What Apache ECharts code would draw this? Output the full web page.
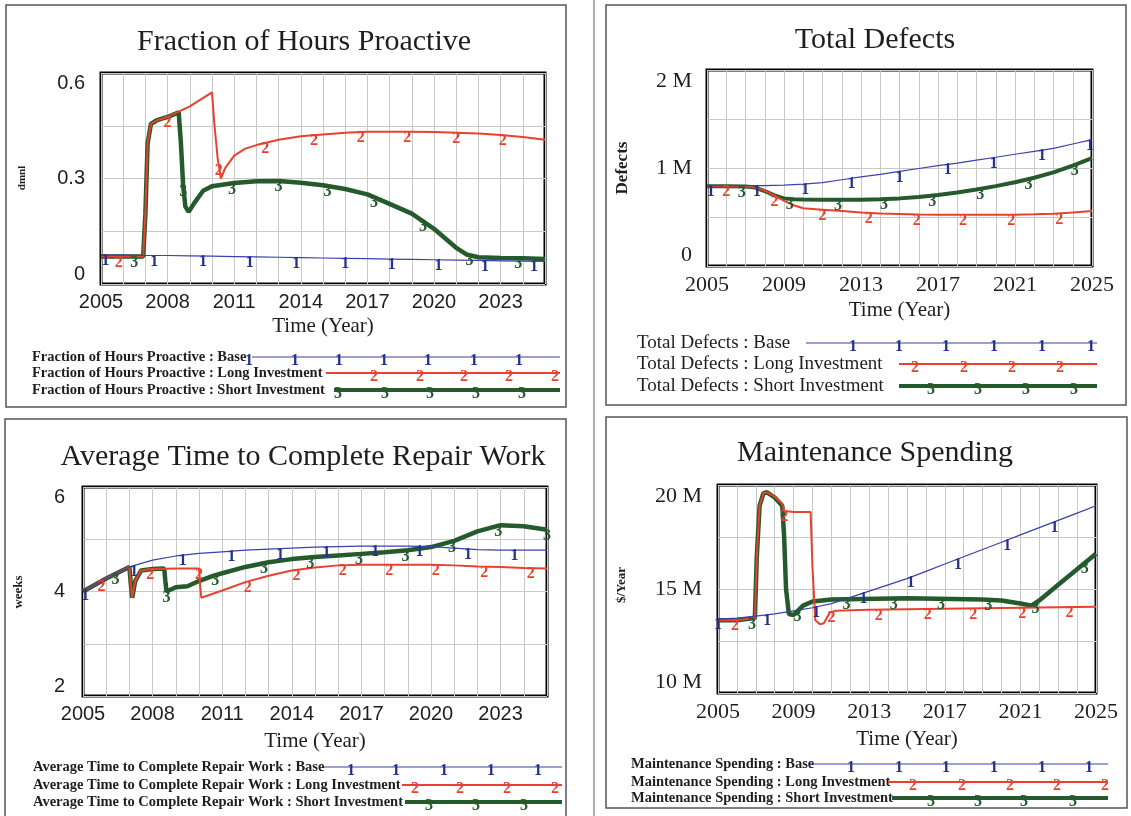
<!DOCTYPE html>
<html>
<head>
<meta charset="utf-8">
<title>Scenario comparison</title>
<script src="https://cdn.jsdelivr.net/npm/echarts@6.0.0/dist/echarts.min.js"></script>
<style>
  html, body { margin: 0; padding: 0; background: #fff; }
  #chart { width: 1131px; height: 816px; }
</style>
</head>
<body>
<div id="chart"></div>
<script>
// ---- values: [year, value] ----
// Fraction of Hours Proactive (dmnl)
const fhpBase = [[2005,0.082],[2006,0.082],[2007,0.081],[2008,0.081],[2009,0.080],[2010,0.079],[2011,0.078],[2012,0.077],[2013,0.076],[2014,0.075],[2015,0.074],[2016,0.073],[2017,0.072],[2018,0.071],[2019,0.070],[2020,0.069],[2021,0.068],[2022,0.067],[2023,0.066],[2024,0.065],[2025,0.064]]
const fhpLong = [[2005,0.078],[2006,0.078],[2006.9,0.078],[2007.0,0.2],[2007.1,0.40],[2007.25,0.455],[2007.5,0.465],[2008,0.475],[2008.5,0.49],[2009,0.505],[2009.5,0.525],[2010.0,0.545],[2010.1,0.46],[2010.25,0.36],[2010.4,0.30],[2010.6,0.33],[2011,0.365],[2011.5,0.385],[2012,0.395],[2013,0.41],[2014,0.42],[2015,0.425],[2016,0.43],[2017,0.433],[2018,0.433],[2019,0.433],[2020,0.432],[2021,0.43],[2022,0.428],[2023,0.424],[2024,0.418],[2025,0.41]]
const fhpShort = [[2005,0.078],[2006,0.078],[2006.9,0.078],[2007.0,0.2],[2007.1,0.40],[2007.25,0.455],[2007.5,0.465],[2008,0.475],[2008.5,0.488],[2008.6,0.40],[2008.7,0.28],[2008.8,0.22],[2008.95,0.205],[2009.2,0.23],[2009.6,0.265],[2010,0.278],[2011,0.287],[2012,0.292],[2013,0.293],[2014,0.288],[2015,0.281],[2016,0.27],[2017,0.255],[2018,0.228],[2019,0.2],[2020,0.157],[2020.5,0.13],[2021,0.103],[2021.5,0.083],[2022,0.076],[2023,0.074],[2024,0.073],[2025,0.071]]
const fhpMarks1 = [2005.2, 2007.4, 2009.6, 2011.7, 2013.8, 2016.0, 2018.1, 2020.2, 2022.3, 2024.5]
const fhpMarks2 = [2005.8, 2008.0, 2010.3, 2012.4, 2014.6, 2016.7, 2018.8, 2021.0, 2023.1]
const fhpMarks3 = [2006.5, 2008.7, 2010.9, 2013.0, 2015.2, 2017.3, 2019.5, 2021.6, 2023.8]

// Total Defects
const tdBase = [[2005,820000],[2006,820000],[2007,820000],[2008,820000],[2009,825000],[2010,835000],[2011,850000],[2012,880000],[2013,910000],[2014,935000],[2015,965000],[2016,995000],[2017,1025000],[2018,1050000],[2019,1080000],[2020,1110000],[2021,1140000],[2022,1170000],[2023,1200000],[2024,1245000],[2025,1290000]]
const tdLong = [[2005,815000],[2006,815000],[2007,812000],[2007.5,800000],[2008,770000],[2008.5,720000],[2009,665000],[2009.5,620000],[2010,590000],[2011,575000],[2012,560000],[2013,545000],[2014,535000],[2015,530000],[2016,525000],[2017,523000],[2018,522000],[2019,522000],[2020,523000],[2021,524000],[2022,527000],[2023,533000],[2024,545000],[2025,560000]]
const tdShort = [[2005,815000],[2006,815000],[2007,812000],[2007.5,800000],[2008,765000],[2008.5,720000],[2009,690000],[2009.5,680000],[2010,678000],[2011,676000],[2012,676000],[2013,677000],[2014,680000],[2015,690000],[2016,705000],[2017,725000],[2018,750000],[2019,780000],[2020,815000],[2021,855000],[2022,900000],[2023,955000],[2024,1025000],[2025,1100000]]
const tdMarks1 = [2005.2, 2007.6, 2010.1, 2012.5, 2015.0, 2017.5, 2019.9, 2022.4, 2024.9]
const tdMarks2 = [2006.0, 2008.5, 2011.0, 2013.4, 2015.9, 2018.3, 2020.8, 2023.3]
const tdMarks3 = [2006.8, 2009.3, 2011.8, 2014.2, 2016.7, 2019.2, 2021.7, 2024.1]

// Average Time to Complete Repair Work (weeks)
const atcBase = [[2005,4.0],[2006,4.25],[2007,4.47],[2008,4.6],[2009,4.68],[2010,4.73],[2011,4.76],[2012,4.79],[2013,4.81],[2014,4.83],[2015,4.85],[2016,4.86],[2017,4.87],[2018,4.87],[2019,4.87],[2020,4.86],[2021,4.83],[2022,4.8],[2023,4.79],[2024,4.79],[2025,4.79]]
const atcLong = [[2005,4.0],[2006,4.25],[2007,4.47],[2007.05,4.2],[2007.12,3.88],[2007.25,4.2],[2007.5,4.4],[2008,4.43],[2009,4.44],[2010.0,4.44],[2010.05,4.1],[2010.1,3.88],[2011,4.02],[2012,4.18],[2013,4.3],[2014,4.4],[2015,4.46],[2016,4.5],[2017,4.51],[2018,4.51],[2019,4.51],[2020,4.51],[2021,4.5],[2022,4.48],[2023,4.47],[2024,4.45],[2025,4.44]]
const atcShort = [[2005,4.0],[2006,4.25],[2007,4.47],[2007.05,4.2],[2007.12,3.88],[2007.25,4.2],[2007.5,4.4],[2008,4.43],[2008.5,4.44],[2008.55,4.2],[2008.6,4.0],[2009,4.08],[2009.5,4.1],[2010,4.2],[2010.6,4.3],[2011,4.35],[2012,4.47],[2013,4.56],[2014,4.62],[2015,4.66],[2016,4.69],[2017,4.72],[2018,4.75],[2019,4.79],[2020,4.85],[2021,4.97],[2022,5.15],[2023,5.27],[2024,5.25],[2025,5.18]]
const atcMarks1 = [2005.1, 2007.2, 2009.3, 2011.4, 2013.5, 2015.5, 2017.6, 2019.5, 2021.6, 2023.6]
const atcMarks2 = [2005.8, 2007.9, 2010.0, 2012.1, 2014.2, 2016.2, 2018.2, 2020.2, 2022.3, 2024.3]
const atcMarks3 = [2006.4, 2008.6, 2010.7, 2012.8, 2014.8, 2016.9, 2018.9, 2020.9, 2022.9, 2025.0]

// Maintenance Spending ($/Year)
const msBase = [[2005,13.55e6],[2006,13.6e6],[2007,13.7e6],[2008,13.8e6],[2009,13.95e6],[2010,14.1e6],[2011,14.3e6],[2012,14.6e6],[2013,14.9e6],[2014,15.2e6],[2015,15.5e6],[2016,15.85e6],[2017,16.2e6],[2018,16.55e6],[2019,16.9e6],[2020,17.25e6],[2021,17.6e6],[2022,17.95e6],[2023,18.3e6],[2024,18.65e6],[2025,19.0e6]]
const msLong = [[2005,13.5e6],[2006,13.5e6],[2006.95,13.6e6],[2007.05,16.5e6],[2007.2,19.0e6],[2007.4,19.6e6],[2007.6,19.65e6],[2008,19.45e6],[2008.4,19.1e6],[2008.5,18.75e6],[2009,18.7e6],[2009.9,18.7e6],[2010.0,16e6],[2010.15,13.5e6],[2010.4,13.3e6],[2010.6,13.35e6],[2010.9,13.85e6],[2011.2,13.95e6],[2013,14.0e6],[2017,14.05e6],[2021,14.1e6],[2025,14.15e6]]
const msShort = [[2005,13.5e6],[2006,13.5e6],[2006.95,13.6e6],[2007.05,16.5e6],[2007.2,19.0e6],[2007.4,19.6e6],[2007.6,19.65e6],[2008,19.4e6],[2008.4,19.0e6],[2008.5,17.5e6],[2008.6,15.0e6],[2008.75,13.8e6],[2009,13.75e6],[2009.5,14.2e6],[2010,14.4e6],[2011,14.5e6],[2015,14.55e6],[2019,14.5e6],[2020,14.45e6],[2021,14.3e6],[2021.6,14.2e6],[2022,14.45e6],[2023,15.2e6],[2024,15.95e6],[2025,16.7e6]]
const msMarks1 = [2005.0, 2007.6, 2010.2, 2012.7, 2015.2, 2017.7, 2020.3, 2022.8]
const msMarks2 = [2005.9, 2008.5, 2011.0, 2013.5, 2016.1, 2018.5, 2021.1, 2023.6]
const msMarks3 = [2006.8, 2009.2, 2011.8, 2014.3, 2016.8, 2019.3, 2021.8, 2024.4]

// ---- styles ----
const BLUE = '#3b41ad'
const BLUE_MARK = '#24308d'
const RED = '#e8412d'
const GREEN = '#245a2c'
const GRID_LINE = '#c9c9c9'
const INK = '#1e1e1e'
const SERIF = 'Liberation Serif'
const SANS = 'Liberation Sans'

// y on the drawn polyline, used only to sit the digit markers on the line
function onLine(d, t) {
  if (t <= d[0][0]) return d[0][1]
  for (let i = 1; i < d.length; i++) {
    if (t <= d[i][0]) {
      const a = d[i - 1], b = d[i]
      return a[1] + (b[1] - a[1]) * (t - a[0]) / (b[0] - a[0])
    }
  }
  return d[d.length - 1][1]
}

function lineSeries(idx, data, color, width, marks, digit, markColor) {
  return {
    type: 'line',
    xAxisIndex: idx,
    yAxisIndex: idx,
    data: data,
    showSymbol: false,
    symbol: 'none',
    silent: true,
    lineStyle: { color: color, width: width },
    itemStyle: { color: color },
    markPoint: {
      symbol: 'rect',
      symbolSize: 1,
      silent: true,
      itemStyle: { color: 'rgba(0,0,0,0)' },
      label: {
        show: true,
        position: 'inside',
        offset: [0, 6],
        formatter: digit,
        color: markColor,
        fontFamily: SERIF,
        fontWeight: 'bold',
        fontSize: 16
      },
      data: marks.map(function(t) { return { coord: [t, onLine(data, t)] } })
    }
  }
}

// 面板布局
const panels = [
  { grid: { left: 101, top: 73, width: 444, height: 211 }, step: 3, min: 0, max: 0.6, interval: 0.3,
    labelFont: SANS, labelSize: 20, yMargin: 16, nameGap: 32,
    fmt: function(v) { return v === 0 ? '0' : v.toFixed(1) } },
  { grid: { left: 707, top: 70, width: 385, height: 196 }, step: 4, min: 0, max: 2e6, interval: 1e6,
    labelFont: SERIF, labelSize: 22, yMargin: 15, nameGap: 34,
    fmt: function(v) { return v === 0 ? '0' : (v / 1e6) + ' M' } },
  { grid: { left: 83, top: 487, width: 464, height: 209 }, step: 3, min: 2, max: 6, interval: 2,
    labelFont: SANS, labelSize: 20, yMargin: 18, nameGap: 35,
    fmt: function(v) { return String(v) } },
  { grid: { left: 718, top: 485, width: 378, height: 208 }, step: 4, min: 10e6, max: 20e6, interval: 5e6,
    labelFont: SERIF, labelSize: 22, yMargin: 16, nameGap: 36,
    fmt: function(v) { return (v / 1e6) + ' M' } }
]

const grids = panels.map(function(p) {
  return Object.assign({ show: true, borderColor: '#000', borderWidth: 3, backgroundColor: '#fff' }, p.grid)
})

const xAxes = panels.map(function(p, i) {
  return {
    type: 'value', gridIndex: i, min: 2005, max: 2025, interval: 1,
    axisLine: { show: false }, axisTick: { show: false },
    splitLine: { show: true, lineStyle: { color: GRID_LINE, width: 1 } },
    axisLabel: {
      margin: 8, color: INK, fontFamily: p.labelFont, fontSize: p.labelSize,
      formatter: function(v) { return (Math.round(v) - 2005) % p.step === 0 ? String(Math.round(v)) : '' }
    },
    name: 'Time (Year)', nameLocation: 'middle', nameGap: p.nameGap,
    nameTextStyle: { fontFamily: SERIF, fontSize: 21, color: INK }
  }
})

const yAxes = panels.map(function(p, i) {
  return {
    type: 'value', gridIndex: i, min: p.min, max: p.max, interval: p.interval,
    axisLine: { show: false }, axisTick: { show: false },
    minorTick: { show: true, splitNumber: 2, length: 0 },
    minorSplitLine: { show: true, lineStyle: { color: GRID_LINE, width: 1 } },
    splitLine: { show: true, lineStyle: { color: GRID_LINE, width: 1 } },
    axisLabel: {
      margin: p.yMargin, color: INK, fontFamily: p.labelFont, fontSize: p.labelSize,
      formatter: p.fmt,
      verticalAlignMinLabel: 'bottom', verticalAlignMaxLabel: 'top'
    }
  }
})

const series = [
  lineSeries(0, fhpShort, GREEN, 4.5, fhpMarks3, '3', GREEN),
  lineSeries(0, fhpLong, RED, 2, fhpMarks2, '2', RED),
  lineSeries(0, fhpBase, BLUE, 1.2, fhpMarks1, '1', BLUE_MARK),
  lineSeries(1, tdShort, GREEN, 4, tdMarks3, '3', GREEN),
  lineSeries(1, tdLong, RED, 2, tdMarks2, '2', RED),
  lineSeries(1, tdBase, BLUE, 1.2, tdMarks1, '1', BLUE_MARK),
  lineSeries(2, atcShort, GREEN, 4.5, atcMarks3, '3', GREEN),
  lineSeries(2, atcLong, RED, 2, atcMarks2, '2', RED),
  lineSeries(2, atcBase, BLUE, 1.2, atcMarks1, '1', BLUE_MARK),
  lineSeries(3, msShort, GREEN, 4.5, msMarks3, '3', GREEN),
  lineSeries(3, msLong, RED, 2, msMarks2, '2', RED),
  lineSeries(3, msBase, BLUE, 1.2, msMarks1, '1', BLUE_MARK)
]

// ---- decorations: frames, titles, axis names, Vensim style legends ----
function txt(x, y, s, font, align, rot) {
  return { type: 'text', x: x, y: y, rotation: rot || 0, silent: true,
    style: { text: s, font: font, fill: INK, textAlign: align || 'center', textVerticalAlign: 'middle' } }
}
function hline(x0, x1, y, color, w) {
  return { type: 'line', silent: true, shape: { x1: x0, y1: y, x2: x1, y2: y }, style: { stroke: color, lineWidth: w } }
}
function legendRow(tx, y, label, font, lx0, lx1, color, w, xs, digit, markColor) {
  const out = [txt(tx, y, label, font, 'left'), hline(lx0, lx1, y, color, w)]
  xs.forEach(function(x) {
    out.push({ type: 'text', x: x, y: y - 4, silent: true,
      style: { text: digit, font: 'bold 16px "Liberation Serif"', fill: markColor, textAlign: 'center', textVerticalAlign: 'top' } })
  })
  return out
}

const TITLE_FONT = '30px "Liberation Serif"'
const SMALL_BOLD = 'bold 14.5px "Liberation Serif"'
const P2_LEGEND = '19px "Liberation Serif"'

let graphics = [
  { type: 'rect', silent: true, shape: { x: 6, y: 5, width: 560, height: 402 }, style: { fill: 'none', stroke: '#555', lineWidth: 1.5 } },
  { type: 'rect', silent: true, shape: { x: 606, y: 5, width: 520, height: 400 }, style: { fill: 'none', stroke: '#555', lineWidth: 1.5 } },
  { type: 'rect', silent: true, shape: { x: 5, y: 419, width: 561, height: 420 }, style: { fill: 'none', stroke: '#555', lineWidth: 1.5 } },
  { type: 'rect', silent: true, shape: { x: 606, y: 417, width: 521, height: 391 }, style: { fill: 'none', stroke: '#555', lineWidth: 1.5 } },
  { type: 'line', silent: true, shape: { x1: 594, y1: 0, x2: 594, y2: 816 }, style: { stroke: '#777', lineWidth: 1.2 } },

  txt(304, 42, 'Fraction of Hours Proactive', TITLE_FONT),
  txt(875, 40, 'Total Defects', TITLE_FONT),
  txt(303, 457, 'Average Time to Complete Repair Work', TITLE_FONT),
  txt(875, 453, 'Maintenance Spending', TITLE_FONT),

  txt(22, 178, 'dmnl', 'bold 11px "Liberation Serif"', 'center', Math.PI / 2),
  txt(623, 168, 'Defects', 'bold 17px "Liberation Serif"', 'center', Math.PI / 2),
  txt(19, 592, 'weeks', 'bold 13px "Liberation Serif"', 'center', Math.PI / 2),
  txt(622, 585, '$/Year', 'bold 13px "Liberation Serif"', 'center', Math.PI / 2)
]

graphics = graphics.concat(
  legendRow(32, 357, 'Fraction of Hours Proactive : Base', SMALL_BOLD, 252, 560, BLUE, 1.2, [249, 295, 339, 384, 428, 474, 519], '1', BLUE_MARK),
  legendRow(32, 373, 'Fraction of Hours Proactive : Long Investment', SMALL_BOLD, 326, 560, RED, 2, [374, 420, 464, 509, 555], '2', RED),
  legendRow(32, 390, 'Fraction of Hours Proactive : Short Investment', SMALL_BOLD, 334, 560, GREEN, 4, [338, 385, 430, 476, 522], '3', GREEN),

  legendRow(637, 343, 'Total Defects : Base', P2_LEGEND, 806, 1097, BLUE, 1.2, [853, 899, 946, 994, 1042, 1091], '1', BLUE_MARK),
  legendRow(637, 364, 'Total Defects : Long Investment', P2_LEGEND, 899, 1097, RED, 2, [915, 964, 1012, 1060], '2', RED),
  legendRow(637, 386, 'Total Defects : Short Investment', P2_LEGEND, 899, 1097, GREEN, 4, [931, 978, 1026, 1074], '3', GREEN),

  legendRow(33, 767, 'Average Time to Complete Repair Work : Base', SMALL_BOLD, 324, 562, BLUE, 1.2, [351, 396, 444, 491, 538], '1', BLUE_MARK),
  legendRow(33, 785, 'Average Time to Complete Repair Work : Long Investment', SMALL_BOLD, 402, 562, RED, 2, [415, 460, 507, 555], '2', RED),
  legendRow(33, 802, 'Average Time to Complete Repair Work : Short Investment', SMALL_BOLD, 405, 562, GREEN, 4, [429, 476, 524], '3', GREEN),

  legendRow(631, 764, 'Maintenance Spending : Base', SMALL_BOLD, 810, 1108, BLUE, 1.2, [851, 899, 946, 994, 1042, 1089], '1', BLUE_MARK),
  legendRow(631, 782, 'Maintenance Spending : Long Investment', SMALL_BOLD, 888, 1108, RED, 2, [913, 962, 1010, 1057, 1105], '2', RED),
  legendRow(631, 798, 'Maintenance Spending : Short Investment', SMALL_BOLD, 892, 1108, GREEN, 4, [931, 978, 1024, 1073], '3', GREEN)
)

const chart = echarts.init(document.getElementById('chart'))
chart.setOption({
  animation: false,
  backgroundColor: '#fff',
  grid: grids,
  xAxis: xAxes,
  yAxis: yAxes,
  series: series,
  graphic: { elements: graphics }
})
</script>
</body>
</html>
